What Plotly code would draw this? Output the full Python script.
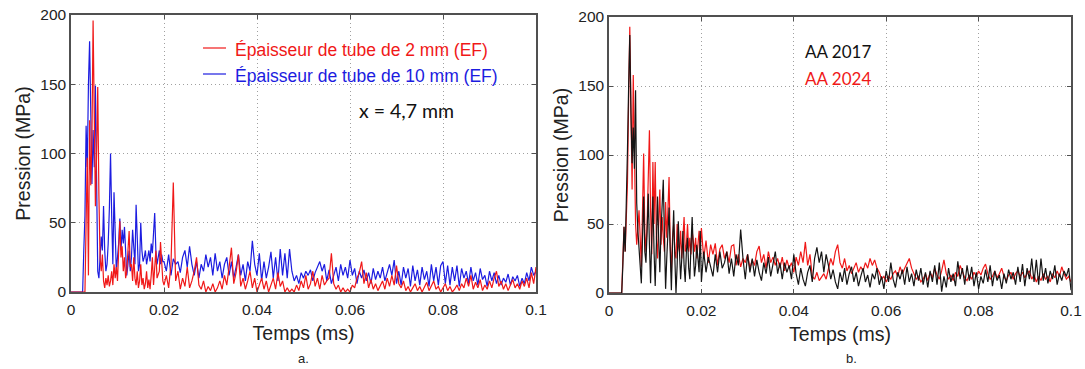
import numpy as np
import plotly.graph_objects as go

# ---------------- data ----------------
# time grid: fine sampling 0-0.02 ms, coarser 0.02-0.1 ms
t_fine = np.arange(80) * 0.00025
t_coarse = 0.02 + np.arange(161) * 0.0005
temps = np.concatenate([t_fine, t_coarse])

# Panel a: tube 2 mm (red)
tube2_early = [0]*13 + [50, 97, 12, 124, 77, 110, 196, 100, 62, 100, 148, 70, 25, 15, 27, 8, 3, 10, 5,
               12, 4, 8, 15, 5, 20, 10, 18, 8, 30, 51, 25, 33, 15, 25, 10, 15, 30, 44, 18, 20, 8,
               25, 10, 5, 15, 3, 8, 20, 5, 10, 2, 6, 15, 3, 9, 2, 12, 25, 5, 15, 30, 10, 12, 15,
               36, 20, 8]
tube2_late = [5, 12, 3, 20, 79, 8, 15, 2, 10, 4, 18, 3, 8, 15, 25, 5, 2, 8, 0, 4,
              1, 6, 0, 3, 8, 2, 12, 5, 18, 32, 6, 14, 27, 4, 10, 2, 8, 15, 3, 10,
              0, 6, 10, 2, 8, 0, 5, 10, 2, 14, 4, 8, 0, 3, 0, 2, 0, 5, 1, 8,
              3, 12, 2, 6, 15, 4, 10, 2, 12, 5, 8, 10, 28, 6, 2, 5, 0, 3, 0, 2,
              0, 5, 3, 10, 14, 22, 6, 14, 3, 9, 2, 6, 1, 4, 8, 2, 10, 4, 12, 5,
              19, 6, 3, 8, 1, 4, 0, 3, 6, 1, 4, 0, 3, 7, 1, 5, 8, 2, 4, 0,
              3, 6, 1, 4, 0, 2, 5, 1, 6, 3, 10, 4, 12, 2, 7, 3, 9, 1, 5, 2,
              8, 3, 10, 15, 4, 8, 2, 6, 1, 5, 9, 3, 6, 2, 8, 4, 10, 3, 14, 6, 18]

# Panel a: tube 10 mm (blue)
tube10_early = [0]*11 + [30, 55, 120, 90, 150, 181, 130, 78, 117, 90, 149, 60, 15, 10, 25, 40, 30,
                62, 30, 15, 20, 35, 60, 100, 55, 20, 72, 40, 15, 25, 35, 53, 30, 45, 35, 47, 25,
                12, 20, 30, 15, 25, 45, 30, 20, 63, 35, 15, 20, 50, 30, 22, 25, 30, 20, 25, 30,
                22, 35, 28, 40, 57, 30, 20, 25, 30, 20, 27, 22]
tube10_late = [22, 15, 27, 12, 24, 20, 22, 14, 25, 30, 18, 33, 20, 12, 22, 10, 20, 15, 27, 18,
               25, 12, 28, 15, 22, 10, 20, 25, 12, 22, 10, 18, 27, 12, 20, 8, 22, 15, 37, 20,
               12, 28, 8, 22, 10, 18, 29, 10, 25, 8, 31, 12, 28, 10, 31, 15, 8, 12, 6, 14,
               10, 15, 12, 16, 8, 14, 18, 22, 15, 20, 8, 16, 6, 12, 18, 8, 20, 12, 18, 10,
               23, 12, 17, 6, 15, 10, 16, 8, 14, 6, 17, 9, 15, 10, 18, 8, 14, 20, 12, 23,
               6, 15, 5, 18, 10, 17, 4, 19, 8, 16, 5, 18, 9, 15, 4, 20, 8, 18, 5, 19,
               22, 6, 19, 5, 18, 8, 19, 4, 17, 10, 15, 6, 18, 8, 14, 5, 17, 9, 12, 4,
               15, 8, 14, 6, 12, 5, 10, 7, 13, 5, 11, 8, 12, 4, 10, 6, 14, 8, 18, 12, 15]

# Panel b: AA 2017 (black)
aa2017_early = [0]*12 + [20, 48, 30, 60, 104, 150, 187, 130, 94, 120, 90, 147, 65, 45, 31, 12, 7,
                40, 70, 30, 22, 45, 72, 35, 7, 40, 70, 30, 5, 35, 70, 40, 15, 45, 72, 82, 40, 3,
                25, 50, 62, 30, 2, 35, 60, 25, 0, 20, 52, 30, 10, 25, 45, 20, 8, 30, 40, 18, 10,
                35, 55, 30, 12, 20, 35, 25, 15, 45]
aa2017_late = [8, 30, 15, 26, 20, 12, 28, 15, 30, 18, 22, 30, 14, 25, 12, 28, 20, 46, 25, 10,
               28, 15, 25, 12, 24, 15, 9, 22, 14, 26, 12, 20, 30, 14, 22, 10, 22, 15, 20, 10,
               28, 14, 6, 18, 10, 5, 15, 20, 8, 25, 33, 22, 30, 15, 28, 20, 10, 17, 8, 3,
               15, 8, 18, 6, 14, 19, 8, 15, 5, 12, 18, 8, 13, 4, 14, 10, 18, 6, 12, 3,
               16, 8, 22, 10, 4, 15, 10, 17, 6, 19, 8, 14, 5, 17, 9, 18, 6, 15, 4, 16,
               8, 20, 6, 22, 1, 12, 4, 18, 8, 14, 5, 23, 10, 18, 6, 20, 9, 19, 5, 15,
               3, 12, 7, 17, 8, 20, 5, 16, 9, 13, 3, 14, 7, 17, 10, 15, 6, 19, 8, 21,
               5, 18, 10, 25, 8, 24, 6, 25, 9, 18, 7, 16, 10, 20, 6, 14, 9, 16, 12, 18, 2]

# Panel b: AA 2024 (red)
aa2024_early = [0]*12 + [25, 48, 30, 50, 80, 140, 193, 135, 75, 158, 99, 50, 35, 45, 60, 40, 19,
                60, 101, 45, 30, 50, 80, 118, 60, 28, 95, 50, 95, 40, 25, 50, 75, 35, 55, 40, 30,
                66, 40, 60, 84, 35, 15, 40, 50, 30, 25, 50, 35, 30, 45, 25, 40, 55, 30, 35, 50,
                30, 40, 28, 45, 35, 30, 40, 25, 35, 45, 30]
aa2024_late = [47, 25, 38, 22, 35, 28, 36, 20, 32, 35, 25, 30, 22, 34, 35, 20, 28, 19, 25, 22,
               28, 18, 24, 20, 30, 34, 22, 28, 18, 30, 22, 26, 20, 25, 18, 26, 16, 24, 18, 22,
               15, 26, 20, 30, 22, 37, 20, 28, 12, 10, 15, 9, 12, 14, 10, 18, 25, 20, 30, 35,
               22, 18, 25, 16, 20, 14, 18, 22, 15, 19, 16, 22, 18, 25, 20, 24, 18, 15, 10, 12,
               8, 12, 10, 14, 16, 12, 19, 14, 18, 22, 25, 18, 14, 10, 12, 8, 10, 14, 9, 15,
               11, 18, 13, 10, 16, 24, 14, 10, 13, 9, 15, 12, 20, 15, 11, 9, 13, 10, 15, 12,
               16, 13, 18, 21, 14, 10, 12, 16, 11, 14, 18, 12, 9, 13, 15, 10, 14, 16, 12, 15,
               11, 14, 16, 10, 13, 8, 12, 9, 14, 10, 12, 8, 14, 11, 16, 12, 19, 14, 10, 12, 8]

tube2 = tube2_early + tube2_late
tube10 = tube10_early + tube10_late
aa2017 = aa2017_early + aa2017_late
aa2024 = aa2024_early + aa2024_late

x_ticks = [0, 0.02, 0.04, 0.06, 0.08, 0.1]
x_ticklabels = ["0", "0.02", "0.04", "0.06", "0.08", "0.1"]
y_ticks = [0, 50, 100, 150, 200]

# ---------------- figure ----------------
RED = "#f01818"
BLUE = "#1c1ce0"
BLACK = "#151515"
SANS = "Liberation Sans, Arial, sans-serif"
CAL = "Lato, Open Sans, sans-serif"

fig = go.Figure()
fig.add_trace(go.Scatter(x=temps, y=tube10, mode="lines", line=dict(color=BLUE, width=1.2),
                         name="Épaisseur de tube de 10 mm (EF)", xaxis="x", yaxis="y", showlegend=False))
fig.add_trace(go.Scatter(x=temps, y=tube2, mode="lines", line=dict(color=RED, width=1.2),
                         name="Épaisseur de tube de 2 mm (EF)", xaxis="x", yaxis="y", showlegend=False))
fig.add_trace(go.Scatter(x=temps, y=aa2024, mode="lines", line=dict(color=RED, width=1.2),
                         name="AA 2024", xaxis="x2", yaxis="y2", showlegend=False))
fig.add_trace(go.Scatter(x=temps, y=aa2017, mode="lines", line=dict(color=BLACK, width=1.2),
                         name="AA 2017", xaxis="x2", yaxis="y2", showlegend=False))

W, H = 1085, 369
def px(v):
    return v / W
def py(v):
    return 1 - v / H

axis_common = dict(
    automargin=False,
    showline=True, linecolor="#505050", linewidth=1.5, mirror="ticks",
    ticks="inside", ticklen=4, tickcolor="#505050", tickwidth=1,
    showgrid=True, gridcolor="#a0a0a0", griddash="1px,3px", gridwidth=1,
    zeroline=False, tickfont=dict(family=SANS, size=15.5, color="#222"),
)

xa = dict(axis_common, range=[0, 0.1], tickvals=x_ticks, ticktext=x_ticklabels, ticklabelstandoff=3,
          title=dict(text="Temps (ms)", font=dict(family=SANS, size=19.5, color="#222"), standoff=9))
ya = dict(axis_common, range=[0, 200], tickvals=y_ticks,
          title=dict(text="Pression (MPa)", font=dict(family=SANS, size=19.5, color="#222"), standoff=4))

fig.update_layout(
    width=W, height=H,
    margin=dict(l=0, r=0, t=0, b=0),
    paper_bgcolor="white", plot_bgcolor="white",
    xaxis=dict(xa, domain=[px(71), px(536)], anchor="y"),
    yaxis=dict(ya, domain=[py(292), py(15)], anchor="x"),
    xaxis2=dict(xa, domain=[px(609), px(1071)], anchor="y2"),
    yaxis2=dict(ya, domain=[py(293), py(17)], anchor="x2"),
)

# legend lines (panel a)
for yy, col in [(48, RED), (74, BLUE)]:
    fig.add_shape(type="line", xref="paper", yref="paper", x0=px(203), x1=px(226), y0=py(yy), y1=py(yy),
                  line=dict(color=col, width=1.2))

annos = [
    dict(text="Épaisseur de tube de 2 mm (EF)", x=px(233), y=py(50), color=RED, family=SANS, size=17.5),
    dict(text="Épaisseur de tube de 10 mm (EF)", x=px(233), y=py(76), color=BLUE, family=SANS, size=17.5),
    dict(text="x = 4,7 mm", x=px(357), y=py(110), color="#111", family=CAL, size=19.5),
    dict(text="AA 2017", x=px(803), y=py(52), color="#111", family=CAL, size=17),
    dict(text="AA 2024", x=px(803), y=py(78), color=RED, family=CAL, size=17),
]
for a in annos:
    fig.add_annotation(text=a["text"], x=a["x"], y=a["y"], xref="paper", yref="paper",
                       xanchor="left", yanchor="middle", showarrow=False,
                       font=dict(family=a["family"], size=a["size"], color=a["color"]))

for lab, xc in [("a.", 303), ("b.", 851)]:
    fig.add_annotation(text=lab, x=px(xc), y=py(358), xref="paper", yref="paper",
                       xanchor="center", yanchor="middle", showarrow=False,
                       font=dict(family=SANS, size=13, color="#222"))

fig.write_html("out.html", config={"displayModeBar": False},
               post_script="document.body.style.margin='0';")
